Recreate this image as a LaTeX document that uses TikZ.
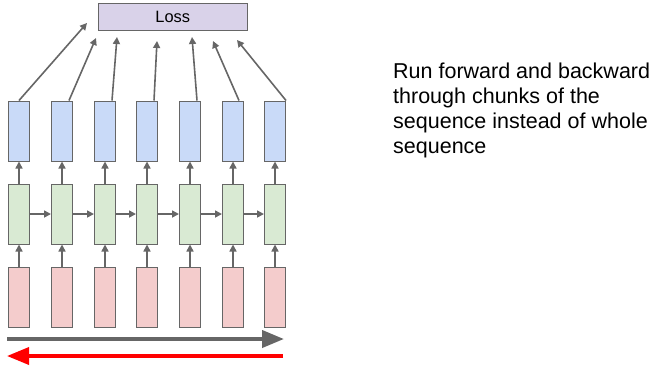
\documentclass[tikz,border=0pt]{standalone}
\usepackage{fontspec}
\setmainfont{Liberation Sans}
\usetikzlibrary{arrows.meta}
\definecolor{edgegray}{HTML}{666666}
\definecolor{bluefill}{HTML}{C9DAF8}
\definecolor{greenfill}{HTML}{D9EAD3}
\definecolor{redfill}{HTML}{F4CCCC}
\definecolor{lossfill}{HTML}{D9D2E9}
\definecolor{brightred}{HTML}{FF0000}
\tikzset{
  cell/.style={draw=edgegray, line width=1pt, minimum width=21pt, minimum height=60pt, inner sep=0pt},
  bluecell/.style={cell, fill=bluefill},
  greencell/.style={cell, fill=greenfill},
  redcell/.style={cell, fill=redfill},
  smallarrow/.style={draw=edgegray, line width=1.6pt, -{Triangle[length=7pt,width=7pt]}},
  bigarrow/.style={line width=4pt, -{Triangle[length=22pt,width=17pt]}},
}
\begin{document}
\begin{tikzpicture}[x=1pt,y=-1pt]
\useasboundingbox (0,0) rectangle (656,365);
\node[draw=edgegray, line width=1pt, fill=lossfill, minimum width=149pt, minimum height=27pt, inner sep=0pt,
      font=\fontsize{16.4}{18}\selectfont] (loss) at (172.8,16.6) {Loss};
\foreach \i/\x in {1/19,2/62,3/105,4/147,5/190,6/233,7/275}{
  \node[bluecell] (b\i) at (\x,131) {};
  \node[greencell] (g\i) at (\x,214) {};
  \node[redcell] (r\i) at (\x,297) {};
  \draw[smallarrow] (r\i.north) -- (g\i.south);
  \draw[smallarrow] (g\i.north) -- (b\i.south);
}
\foreach \i/\j in {1/2,2/3,3/4,4/5,5/6,6/7}{
  \draw[smallarrow] (g\i.east) -- (g\j.west);
}
\coordinate (t1) at (87,23);
\coordinate (t2) at (96,38);
\coordinate (t3) at (117,37);
\coordinate (t4) at (157,41);
\coordinate (t5) at (192,37);
\coordinate (t6) at (213,41);
\coordinate (t7) at (237,40);
\draw[smallarrow] (b1.north) -- (t1);
\draw[smallarrow] ([xshift=7pt]b2.north) -- (t2);
\draw[smallarrow] ([xshift=7pt]b3.north) -- (t3);
\draw[smallarrow] ([xshift=7pt]b4.north) -- (t4);
\draw[smallarrow] ([xshift=7pt]b5.north) -- (t5);
\draw[smallarrow] ([xshift=6pt]b6.north) -- (t6);
\draw[smallarrow] (b7.north east) -- (t7);
\coordinate (fwdstart) at (7,339);
\coordinate (fwdend) at (284,339);
\coordinate (bwdstart) at (283,356);
\coordinate (bwdend) at (7,356);
\draw[bigarrow, edgegray] (fwdstart) -- (fwdend);
\draw[bigarrow, brightred, line width=3.5pt] (bwdstart) -- (bwdend);
\node[anchor=north west, inner sep=0pt, align=left, font=\fontsize{21.5}{25}\selectfont] (note) at (393,62.5)
  {Run forward and backward\\through chunks of the\\sequence instead of whole\\sequence};
\end{tikzpicture}
\end{document}
